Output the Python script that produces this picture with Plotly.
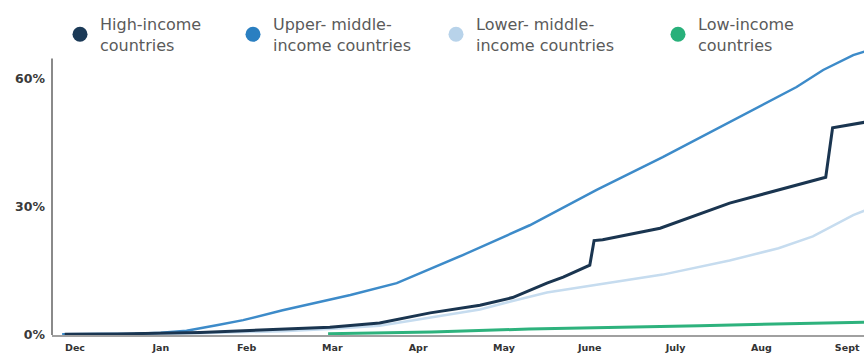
import plotly.graph_objects as go

# x positions are in months after 1 Dec (0 = Dec, 1 = Jan, ... 9 = Sept)
month_labels = ["Dec", "Jan", "Feb", "Mar", "Apr", "May", "June", "July", "Aug", "Sept"]
month_ticks = list(range(len(month_labels)))

series_names = ["High-income<br>countries", "Upper- middle-<br>income countries",
                "Lower- middle-<br>income countries", "Low-income<br>countries"]

upper_x = [-0.15, 0.3, 0.7, 1.0, 1.3, 1.65, 1.96, 2.42, 2.97, 3.21, 3.75, 4.52, 5.30,
           6.08, 6.85, 7.63, 8.41, 8.72, 9.07, 9.2]
upper_y = [0, 0, 0.1, 0.3, 0.8, 2.1, 3.3, 5.6, 8.0, 9.2, 12.0, 18.6, 25.6,
           33.9, 41.6, 49.9, 58.1, 62.1, 65.6, 66.4]

high_x = [-0.12, 0.49, 1.46, 2.42, 2.97, 3.55, 4.14, 4.72, 5.10, 5.50, 5.69, 6.00, 6.05,
          6.15, 6.82, 7.63, 8.75, 8.83, 9.07, 9.2]
high_y = [0, 0.05, 0.4, 1.2, 1.6, 2.6, 5.0, 6.8, 8.6, 12.0, 13.4, 16.2, 22.0,
          22.2, 24.9, 30.8, 36.9, 48.5, 49.4, 49.8]

lower_x = [-0.12, 1.46, 2.42, 2.97, 3.55, 4.14, 4.72, 5.10, 5.50, 6.08, 6.85, 7.63,
           8.2, 8.6, 9.07, 9.2]
lower_y = [0, 0.2, 0.7, 1.2, 2.0, 4.0, 5.8, 7.8, 9.8, 11.6, 14.0, 17.3,
           20.2, 23.0, 28.0, 29.0]

low_x = [2.95, 4.16, 5.29, 5.89, 7.28, 9.2]
low_y = [0.1, 0.5, 1.2, 1.4, 2.0, 2.8]

line_colors = ["#1a3550", "#3d8bc9", "#c6dcef", "#2eb27d"]
dot_colors = ["#1b3a57", "#2a7fc1", "#b8d3ea", "#28b07a"]

fig = go.Figure()

# draw order: low, lower-middle, upper-middle, high
fig.add_trace(go.Scatter(x=low_x, y=low_y, mode="lines",
                         line=dict(color=line_colors[3], width=3), showlegend=False))
fig.add_trace(go.Scatter(x=lower_x, y=lower_y, mode="lines",
                         line=dict(color=line_colors[2], width=2.5), showlegend=False))
fig.add_trace(go.Scatter(x=upper_x, y=upper_y, mode="lines",
                         line=dict(color=line_colors[1], width=2.5), showlegend=False))
fig.add_trace(go.Scatter(x=high_x, y=high_y, mode="lines",
                         line=dict(color=line_colors[0], width=3), showlegend=False))

legend_ids = ["legend", "legend2", "legend3", "legend4"]
legend_px = [60, 233, 436, 658]
for name, col, lid in zip(series_names, dot_colors, legend_ids):
    fig.add_trace(go.Scatter(x=[None], y=[None], mode="markers", name=name,
                             marker=dict(color=col, size=15), legend=lid, showlegend=True))

legend_font = dict(family="DejaVu Sans", size=16, color="#5a5a5a")
leg_common = dict(orientation="h", xref="container", yref="container", xanchor="left",
                  yanchor="top", y=1 - 7 / 354, font=legend_font, bgcolor="rgba(0,0,0,0)",
                  valign="middle")
legends = {}
for lid, px in zip(legend_ids, legend_px):
    legends[lid] = dict(x=px / 864, **leg_common)

fig.update_layout(
    width=864, height=354,
    margin=dict(l=52, r=0, t=50, b=19, autoexpand=False),
    paper_bgcolor="white", plot_bgcolor="white",
    **legends,
    xaxis=dict(range=[-0.268, 9.196], tickvals=month_ticks, ticktext=month_labels,
               showgrid=False, zeroline=False, showline=True, linecolor="#a0a0a0",
               linewidth=2, ticks="", ticklabelstandoff=3,
               tickfont=dict(family="DejaVu Sans", size=9.5, color="#333333", weight="bold")),
    yaxis=dict(range=[-0.2, 66.8], tickvals=[0, 30, 60], ticktext=["0%", "30%", "60%"],
               showgrid=False, zeroline=False, showline=False, ticks="",
               ticklabelstandoff=6,
               tickfont=dict(family="DejaVu Sans", size=12.5, color="#3a3a3a", weight="bold")),
    shapes=[dict(type="line", xref="paper", yref="y", x0=0, x1=0, y0=-0.2, y1=64.8,
                 line=dict(color="#8a8a8a", width=2), layer="below")],
)

fig.write_html("out.html", config={"displayModeBar": False},
               post_script="document.body.style.margin='0';document.body.style.overflow='hidden';")
